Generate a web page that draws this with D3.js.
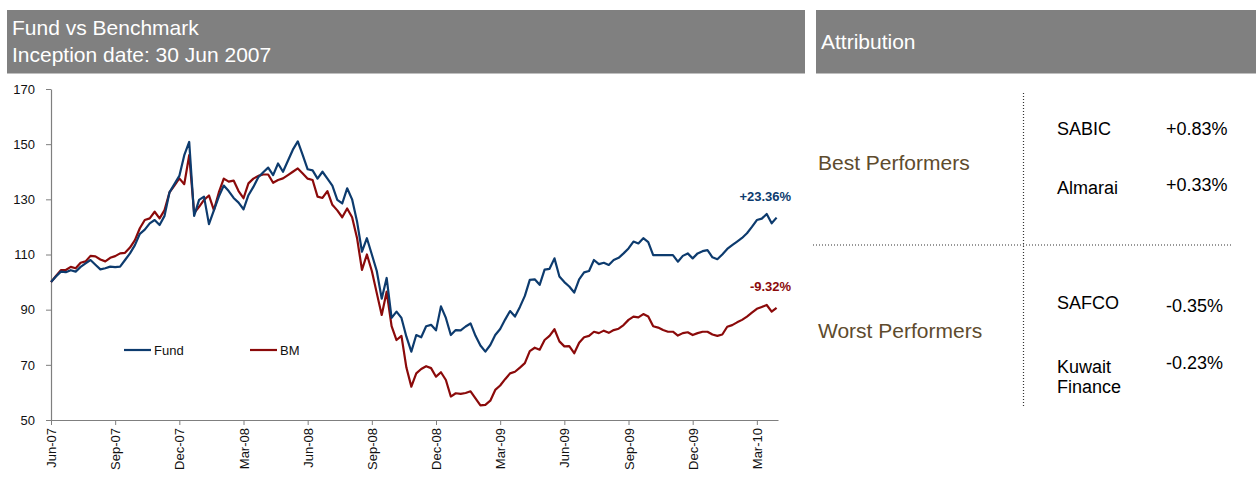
<!DOCTYPE html>
<html>
<head>
<meta charset="utf-8">
<script src="https://cdn.jsdelivr.net/npm/d3@7"></script>
<style>
  html, body { margin: 0; padding: 0; background: #fff; }
  svg { display: block; font-family: "Liberation Sans", Arial, sans-serif; }
</style>
</head>
<body>
<svg id="chart" width="1259" height="486"></svg>
<script>
// Weekly index values, rebased to 100 at inception (30 Jun 2007)
const fundValues = [
  100, 102, 103.8, 103.6, 104.3, 103.8, 105.5, 106.8, 108, 106.3,
  104.6, 105, 105.6, 105.4, 105.6, 108, 110.4, 113.4, 117.5, 119,
  121.3, 122.5, 120.7, 124, 132.5, 135.5, 138.5, 146, 150.8, 124,
  129.8, 131, 121, 126, 131, 135, 133, 130.5, 128.8, 126.4,
  131.5, 134.5, 138, 139.8, 141.5, 138.8, 143, 140, 144, 148,
  151, 146, 140.9, 140.5, 137.5, 140, 137.5, 135, 129.8, 128.5,
  134, 130, 122, 111, 115.9, 110, 104, 94, 101.5, 87,
  89.3, 87, 80.2, 74.8, 80.8, 80, 84, 84.5, 82.5, 91.2,
  87, 80.8, 82.6, 82.5, 83.9, 85, 80.5, 77, 74.8, 77.2,
  80.8, 83, 86.4, 89.5, 87.5, 91, 95, 100.8, 101, 99,
  104.5, 104.8, 108.6, 102, 100, 98.4, 96.2, 101, 103.5, 104,
  108, 106.5, 107, 106.2, 108, 108.8, 110.4, 112.2, 114.7, 114,
  115.9, 114.5, 109.8, 109.8, 109.8, 109.8, 109.8, 107.4, 109.5, 110.4,
  108.6, 110.4, 111.2, 111.6, 109, 108.3, 110, 112, 113.4, 114.7,
  116, 117.7, 120, 122.5, 123, 124.7, 121.3, 123.36
];
const bmValues = [
  100, 102.2, 104.3, 104.4, 105.5, 105, 107, 107.5, 109.5, 109.3,
  108.2, 107.5, 108.8, 109.4, 110.4, 110.6, 112.5, 115.2, 119.5, 122.5,
  123.1, 125.5, 123.1, 126.1, 132.5, 135, 137.6, 135.5, 146, 125,
  127.3, 129.8, 131.4, 126.1, 132.5, 137.5, 136.4, 136.8, 133, 130.4,
  135.8, 137.5, 138.5, 139, 139, 136, 137, 137.6, 138.8, 140,
  141.2, 139.4, 137.5, 137, 131, 130.5, 133, 128, 126, 123.5,
  126.7, 123.5, 116, 104.4, 110, 104, 96, 88.1, 96.5, 84,
  79, 80.5, 69, 62.1, 66.9, 68.5, 69.5, 68.8, 65.7, 67.3,
  64.5, 58.5, 59.7, 59.5, 59.8, 60.4, 57.8, 55.3, 55.5, 57,
  60.9, 62.5, 64.8, 66.9, 67.5, 69, 70.6, 75, 76.2, 75.5,
  79, 80.5, 82.9, 78.5, 76.7, 76.8, 74.2, 78, 80, 80.5,
  82, 81.5, 82.4, 81.6, 82.6, 83.1, 84.4, 86.3, 87.5, 87.2,
  88.4, 87.5, 84, 83.5, 82.6, 82, 82, 80.6, 81.5, 81.8,
  80.8, 81.5, 82, 82, 81, 80.5, 81, 83.8, 84.4, 85.4,
  86.3, 87.5, 88.9, 90.3, 91, 91.7, 89.3, 90.68
];
const seriesNames = ["Fund", "BM"];
const yTicks = [50, 70, 90, 110, 130, 150, 170];
const xTickLabels = ["Jun-07", "Sep-07", "Dec-07", "Mar-08", "Jun-08", "Sep-08",
                     "Dec-08", "Mar-09", "Jun-09", "Sep-09", "Dec-09", "Mar-10"];
const returnLabels = ["+23.36%", "-9.32%"];

// Attribution table
const groups = ["Best Performers", "Worst Performers"];
const bestNames = [["SABIC"], ["Almarai"]];
const bestValues = ["+0.83%", "+0.33%"];
const worstNames = [["SAFCO"], ["Kuwait", "Finance"]];
const worstValues = ["-0.35%", "-0.23%"];

const startDate = new Date(2007, 5, 30);
const dates = fundValues.map((_, i) => d3.timeDay.offset(startDate, 7 * i));

const svg = d3.select("#chart");
const FONT = '"Liberation Sans", Arial, sans-serif';
const fundColor = "#0d3b6e";
const bmColor = "#8b0a0a";
const headGray = "#808080";

// ---- Header bars
svg.append("rect").attr("x", 7).attr("y", 10).attr("width", 798).attr("height", 63.5).attr("fill", headGray);
svg.append("rect").attr("x", 816).attr("y", 10).attr("width", 440).attr("height", 63.5).attr("fill", headGray);
svg.append("text").attr("x", 12).attr("y", 35).attr("fill", "#fff").attr("font-size", 21).text("Fund vs Benchmark");
svg.append("text").attr("x", 12).attr("y", 61.5).attr("fill", "#fff").attr("font-size", 21).text("Inception date: 30 Jun 2007");
svg.append("text").attr("x", 821).attr("y", 49).attr("fill", "#fff").attr("font-size", 21).text("Attribution");

// ---- Line chart
const x = d3.scaleTime().domain([startDate, new Date(2010, 3, 26)]).range([51, 778]);
const y = d3.scaleLinear().domain([50, 170]).range([420, 89]);

const tickDates = xTickLabels.map((_, i) => dates[i * 13]);

const yAxis = svg.append("g").attr("transform", "translate(51,0)")
  .call(d3.axisLeft(y).tickValues(yTicks).tickSize(5).tickSizeOuter(0).tickPadding(11));
const xAxis = svg.append("g").attr("transform", "translate(0,420)")
  .call(d3.axisBottom(x).tickValues(tickDates).tickSize(5).tickSizeOuter(0)
    .tickFormat((d, i) => xTickLabels[i]));

[yAxis, xAxis].forEach(g => {
  g.select(".domain").attr("stroke", "#7f7f7f").attr("stroke-width", 1.2);
  g.selectAll(".tick line").attr("stroke", "#7f7f7f");
  g.selectAll("text").attr("font-family", FONT).attr("font-size", 13).attr("fill", "#111");
});
xAxis.selectAll("text")
  .attr("transform", "rotate(-90)")
  .attr("x", -8).attr("y", 0).attr("dy", "0.35em")
  .attr("text-anchor", "end");

const line = d3.line().x((d, i) => x(dates[i])).y(d => y(d));
const series = [fundValues, bmValues];
const colors = [fundColor, bmColor];

// benchmark underneath, fund on top
[1, 0].forEach(k => {
  svg.append("path").datum(series[k])
    .attr("fill", "none").attr("stroke", colors[k]).attr("stroke-width", 2.2)
    .attr("stroke-linejoin", "round").attr("d", line);
});

// closing return labels
series.forEach((s, k) => {
  const n = s.length - 1;
  svg.append("text")
    .attr("x", x(dates[n]) + 14.5).attr("y", y(s[n]) - 17)
    .attr("text-anchor", "end").attr("font-size", 13).attr("font-weight", "bold")
    .attr("fill", colors[k]).text(returnLabels[k]);
});

// legend
const legendX = [124, 250];
seriesNames.forEach((name, k) => {
  svg.append("line").attr("x1", legendX[k]).attr("x2", legendX[k] + 27)
    .attr("y1", 350).attr("y2", 350).attr("stroke", colors[k]).attr("stroke-width", 2.2);
  svg.append("text").attr("x", legendX[k] + 30).attr("y", 354.5)
    .attr("font-size", 13).attr("fill", "#111").text(name);
});

// ---- Attribution table
const dotted = { stroke: "#333", "stroke-width": 1.2, "stroke-dasharray": "1,2" };
const vline = svg.append("line").attr("x1", 1023.5).attr("x2", 1023.5).attr("y1", 93).attr("y2", 407);
const hline = svg.append("line").attr("x1", 813).attr("x2", 1231).attr("y1", 245).attr("y2", 245);
[vline, hline].forEach(l => Object.entries(dotted).forEach(([k, v]) => l.attr(k, v)));

const groupY = [170, 337.5];
groups.forEach((g, i) => {
  svg.append("text").attr("x", 818).attr("y", groupY[i]).attr("font-size", 21)
    .attr("fill", "#5e4b2d").text(g);
});

function rows(names, values, nameY, valueY) {
  names.forEach((lines, i) => {
    const t = svg.append("text").attr("x", 1057).attr("y", nameY[i]).attr("font-size", 18).attr("fill", "#000");
    lines.forEach((ln, j) => {
      t.append("tspan").attr("x", 1057).attr("dy", j === 0 ? 0 : 20).text(ln);
    });
    svg.append("text").attr("x", 1166).attr("y", valueY[i]).attr("font-size", 18)
      .attr("fill", "#000").text(values[i]);
  });
}
rows(bestNames, bestValues, [135, 193.5], [135, 191]);
rows(worstNames, worstValues, [309, 372.5], [311.5, 368.5]);
</script>
</body>
</html>
